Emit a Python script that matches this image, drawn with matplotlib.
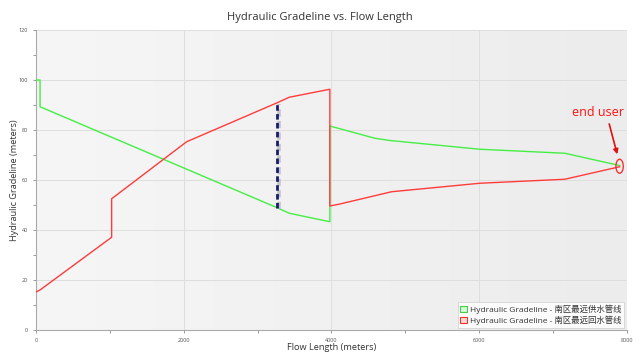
import matplotlib
matplotlib.use("Agg")
import matplotlib.pyplot as plt
import numpy as np
from matplotlib.patches import Ellipse, Patch
from matplotlib.ticker import MultipleLocator

plt.rcParams['font.family'] = ['Open Sans', 'Noto Sans CJK SC', 'DejaVu Sans']

# Data
supply_x = [0, 55, 55, 3265, 3428, 3978, 3978, 4587, 4790, 6008, 7158, 7900]
supply_y = [100, 100, 89.3, 48.9, 46.7, 43.3, 81.6, 76.7, 75.8, 72.3, 70.7, 65.8]
return_x = [0, 54, 1024, 1024, 2039, 3265, 3428, 3978, 3978, 4114, 4813, 6008, 7158, 7900]
return_y = [15.2, 16.0, 37.1, 52.5, 75.3, 90.9, 93.1, 96.3, 49.6, 50.4, 55.3, 58.7, 60.3, 65.3]
marker_x = 3265
marker_y = [48.9, 90.9]
end_user_xy = (7900, 65.5)
label_supply = "Hydraulic Gradeline - 南区最远供水管线"
label_return = "Hydraulic Gradeline - 南区最远回水管线"

fig = plt.figure(figsize=(6.4, 3.64), dpi=100)
ax = fig.add_axes([0.05625, 0.0934, 0.9234, 0.8242])

# subtle background gradient
grad = np.linspace(0, 1, 256)[None, :]
ax.imshow(grad, extent=[0, 8000, 0, 120], aspect='auto', cmap=matplotlib.colors.LinearSegmentedColormap.from_list('bg', ['#f6f6f6', '#ececec']), zorder=-1)

ax.plot(supply_x, supply_y, color='#44ee44', lw=1.0, zorder=3)
ax.plot(return_x, return_y, color='#ff3b3b', lw=1.0, zorder=3)

# dashed marker with shadow
ax.plot([marker_x + 25, marker_x + 25], [marker_y[0] - 0.5, marker_y[1] - 0.5], color='#b8b8c0',
        lw=2.6, ls=(0, (2, 1.2)), zorder=4, alpha=0.8)
ax.plot([marker_x, marker_x], marker_y, color='#1a1a6e', lw=2.0, ls=(0, (2, 1.2)), zorder=5)

ax.set_xlim(0, 8000)
ax.set_ylim(0, 120)
ax.xaxis.set_major_locator(MultipleLocator(2000))
ax.xaxis.set_minor_locator(MultipleLocator(1000))
ax.yaxis.set_major_locator(MultipleLocator(20))
ax.yaxis.set_minor_locator(MultipleLocator(10))
ax.grid(True, which='major', color='#dedede', lw=0.7, zorder=0)
ax.set_axisbelow(True)
ax.tick_params(which='both', labelsize=4, colors='#888888', length=2, width=0.6, labelcolor='#555555')
for side in ['top', 'right']:
    ax.spines[side].set_visible(False)
for side in ['left', 'bottom']:
    ax.spines[side].set_color('#aaaaaa')
    ax.spines[side].set_linewidth(0.8)

fig.text(0.5, 0.953, "Hydraulic Gradeline vs. Flow Length", fontsize=8, color='#333333', ha='center', va='center')
ax.set_xlabel("Flow Length (meters)", fontsize=6.6, color='#333333')
ax.set_ylabel("Hydraulic Gradeline (meters)", fontsize=6.6, color='#333333')
ax.xaxis.set_label_coords(0.5, -0.058)
ax.yaxis.set_label_coords(-0.036, 0.5)
ax.xaxis.label.set_va('center')
ax.yaxis.label.set_va('center')

# end user annotation
ax.add_patch(Ellipse(end_user_xy, width=100, height=5.6, fill=False, edgecolor='#ff2222', lw=0.9, zorder=6))
ax.text(7610, 86.8, "end user", color='#ff1111', fontsize=9, ha='center', va='center', zorder=6)
ax.annotate("", xy=(7878, 69.2), xytext=(7750, 83.5),
            arrowprops=dict(arrowstyle='-|>', color='#e01010', lw=1.2, mutation_scale=7), zorder=6)

handles = [Patch(facecolor='#d8ffd8', edgecolor='#44cc44', lw=0.8),
           Patch(facecolor='#ffd8d8', edgecolor='#ee3333', lw=0.8)]
leg = ax.legend(handles, [label_supply, label_return], loc='lower right', fontsize=6,
                frameon=True, fancybox=False, handlelength=0.8, handleheight=0.8,
                handletextpad=0.4, borderpad=0.3, labelspacing=0.2, borderaxespad=0.3)
leg.get_frame().set_edgecolor('#cccccc')
leg.get_frame().set_linewidth(0.6)
for t in leg.get_texts():
    t.set_color('#333333')

fig.savefig("out.png", dpi=100)
